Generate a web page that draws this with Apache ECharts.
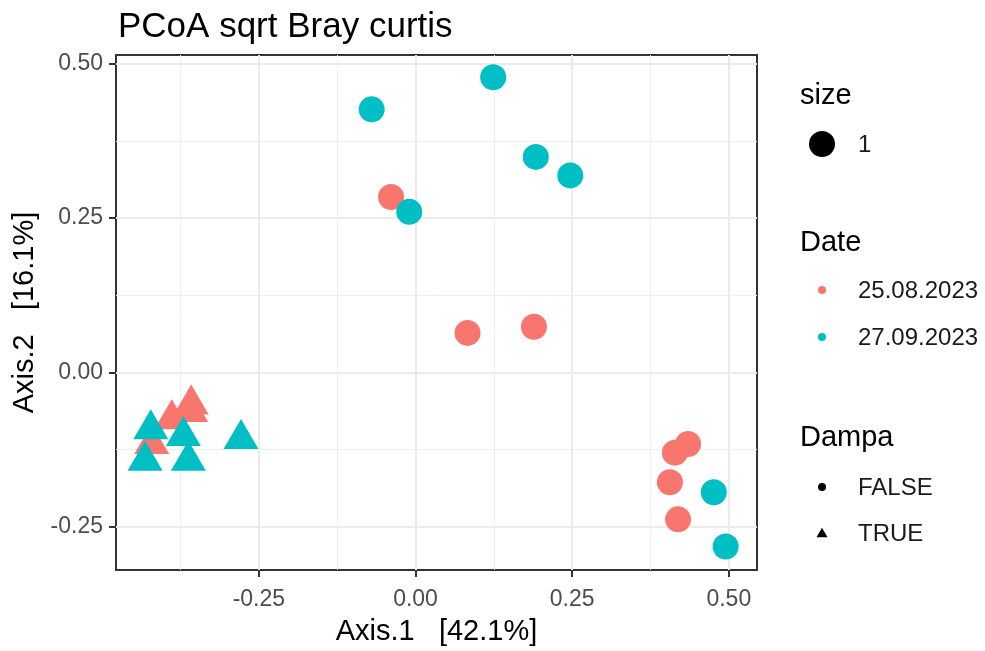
<!DOCTYPE html>
<html>
<head>
<meta charset="utf-8">
<script src="https://cdn.jsdelivr.net/npm/echarts@6/dist/echarts.min.js"></script>
<style>
  html, body { margin: 0; padding: 0; background: #ffffff; }
  #chart { width: 985px; height: 651px; }
</style>
</head>
<body>
<div id="chart"></div>
<script>
// PCoA coordinates [Axis.1, Axis.2] per sampling date and Dampa group
const aug_false = [[-0.039, 0.284], [0.083, 0.064], [0.189, 0.074], [0.435, -0.116], [0.414, -0.130], [0.406, -0.178], [0.419, -0.238]];
const aug_true = [[-0.358, -0.052], [-0.359, -0.064], [-0.389, -0.076], [-0.421, -0.116]];
const sep_false = [[-0.070, 0.426], [0.124, 0.478], [0.192, 0.349], [0.247, 0.319], [-0.010, 0.260], [0.476, -0.194], [0.495, -0.282]];
const sep_true = [[-0.4225, -0.092], [-0.3705, -0.103], [-0.2785, -0.108], [-0.4316, -0.143], [-0.3625, -0.143]];

const dates = ['25.08.2023', '27.09.2023'];
const dampaLevels = ['FALSE', 'TRUE'];
const sizeLevels = ['1'];

// axis ranges and tick positions
const xRange = [-0.478, 0.545];
const yRange = [-0.320, 0.514];
const xTicks = [-0.25, 0, 0.25, 0.5];
const yTicks = [-0.25, 0, 0.25, 0.5];
const xMinor = [-0.375, -0.125, 0.125, 0.375];
const yMinor = [-0.375, -0.125, 0.125, 0.375];

const RED = '#F8766D';
const TEAL = '#00BFC4';
const FONT = '"Liberation Sans", Arial, sans-serif';

const CIRCLE_SIZE = 26;
const TRI_SIZE = [35, 30];
// centre the triangle on its centroid (as R's pch 17 does)
const TRI_OFFSET = [0, -5];

const chart = echarts.init(document.getElementById('chart'), null, { renderer: 'canvas' });

function majorAxis(range, ticks, name, isX) {
  return {
    type: 'value',
    min: range[0],
    max: range[1],
    name: name,
    nameLocation: 'middle',
    nameGap: isX ? 47 : 64,
    nameTextStyle: { color: '#000000', fontSize: 29, fontFamily: FONT },
    axisLine: { show: false, onZero: false },
    axisTick: {
      show: true, length: 7, customValues: ticks,
      lineStyle: { color: '#333333', width: 2 }
    },
    axisLabel: {
      customValues: ticks,
      formatter: v => v.toFixed(2),
      color: '#4D4D4D', fontSize: 23, fontFamily: FONT,
      margin: isX ? 18 : 13
    },
    splitLine: { show: true, lineStyle: { color: '#EBEBEB', width: 2 } },
    minorSplitLine: { show: false }
  };
}

function minorAxis(range, ticks) {
  return {
    type: 'value',
    min: range[0],
    max: range[1],
    axisLine: { show: false, onZero: false },
    axisTick: { show: false, customValues: ticks, lineStyle: { color: 'rgba(0,0,0,0)' } },
    axisLabel: { show: false, customValues: ticks },
    splitLine: { show: true, lineStyle: { color: '#EFEFEF', width: 1 } }
  };
}

function pointSeries(name, data, color, tri) {
  return {
    name: name,
    type: 'scatter',
    xAxisIndex: 0,
    yAxisIndex: 0,
    data: data,
    symbol: tri ? 'triangle' : 'circle',
    symbolSize: tri ? TRI_SIZE : CIRCLE_SIZE,
    symbolOffset: tri ? TRI_OFFSET : [0, 0],
    itemStyle: { color: color, opacity: 1 },
    emphasis: { disabled: true },
    silent: true,
    animation: false
  };
}

// legend drawn as graphic elements
const LX = 800, KX = 822, TX = 858;
function legendTitle(text, y) {
  return { type: 'text', x: LX, y: y, style: { text: text, font: '29px ' + FONT, fill: '#000000', verticalAlign: 'middle' } };
}
function legendLabel(text, y) {
  return { type: 'text', x: TX, y: y, style: { text: text, font: '24px ' + FONT, fill: '#1A1A1A', verticalAlign: 'middle' } };
}
function keyCircle(y, r, color) {
  return { type: 'circle', shape: { cx: KX, cy: y, r: r }, style: { fill: color } };
}
function keyTriangle(y, w, h, color) {
  return { type: 'polygon', shape: { points: [[KX, y - h * 2 / 3], [KX + w / 2, y + h / 3], [KX - w / 2, y + h / 3]] }, style: { fill: color } };
}

const legendGraphics = [
  legendTitle('size', 96),
  keyCircle(144, 13, '#000000'),
  legendLabel(sizeLevels[0], 145),
  legendTitle('Date', 243),
  keyCircle(290, 4, RED),
  legendLabel(dates[0], 291),
  keyCircle(337, 4, TEAL),
  legendLabel(dates[1], 338),
  legendTitle('Dampa', 438),
  keyCircle(487, 4, '#000000'),
  legendLabel(dampaLevels[0], 488),
  keyTriangle(534, 11, 9.5, '#000000'),
  legendLabel(dampaLevels[1], 534)
];

const option = {
  backgroundColor: '#ffffff',
  animation: false,
  title: {
    text: 'PCoA sqrt Bray curtis',
    left: 113,
    top: 5,
    textStyle: { color: '#000000', fontSize: 35, fontWeight: 'normal', fontFamily: FONT }
  },
  grid: {
    left: 116, right: 228, top: 55, bottom: 80,
    show: true,
    borderColor: '#333333',
    borderWidth: 2,
    backgroundColor: '#ffffff'
  },
  xAxis: [
    majorAxis(xRange, xTicks, 'Axis.1   [42.1%]', true),
    minorAxis(xRange, xMinor)
  ],
  yAxis: [
    majorAxis(yRange, yTicks, 'Axis.2   [16.1%]', false),
    minorAxis(yRange, yMinor)
  ],
  series: [
    pointSeries(dates[0] + ' FALSE', aug_false, RED, false),
    pointSeries(dates[0] + ' TRUE', aug_true, RED, true),
    pointSeries(dates[1] + ' FALSE', sep_false, TEAL, false),
    pointSeries(dates[1] + ' TRUE', sep_true, TEAL, true)
  ],
  graphic: legendGraphics
};

chart.setOption(option);
</script>
</body>
</html>
